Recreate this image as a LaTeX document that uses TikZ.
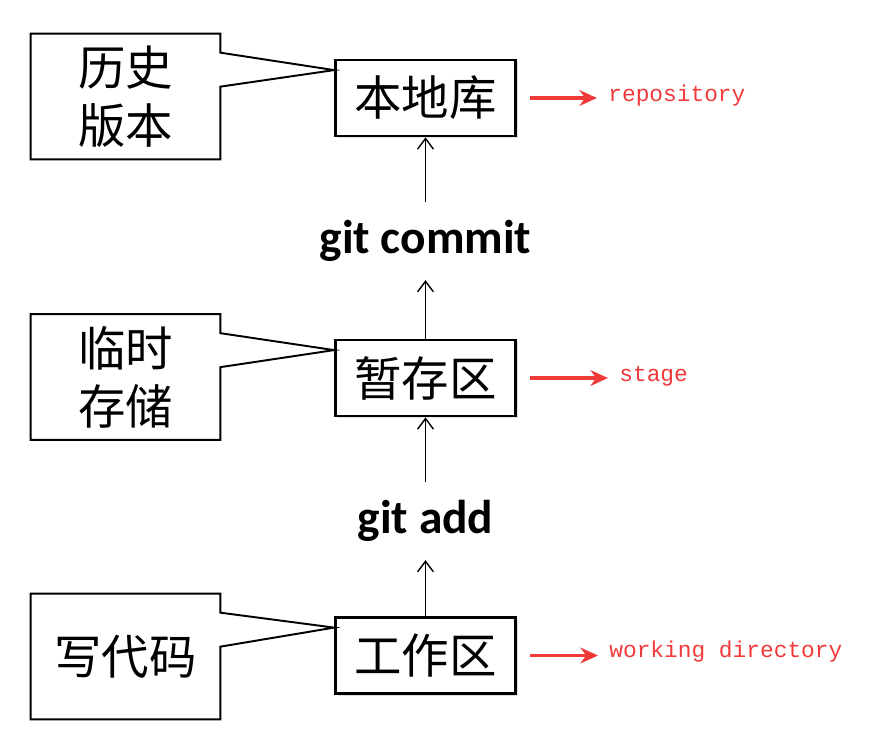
\documentclass[tikz,border=0pt]{standalone}
\usepackage{fontspec}
\setmainfont{Carlito}
\newfontfamily\cjk{Noto Sans CJK SC}
\newfontfamily\monofont{Liberation Mono}
\usetikzlibrary{arrows.meta,shadows}
\definecolor{notered}{RGB}{240,58,58}
\begin{document}
\begin{tikzpicture}[x=0.02cm,y=-0.02cm,
	area/.style={draw,line width=1.6pt,fill=white,minimum width=3.6cm,minimum height=1.52cm,inner sep=0pt,
		font=\cjk\fontsize{27}{30}\selectfont,
		drop shadow={shadow xshift=1.2pt,shadow yshift=-1.2pt,opacity=0.25}},
	memo/.style={minimum width=3.78cm,minimum height=2.5cm,inner sep=0pt,align=center,
		font=\cjk\fontsize{27}{33}\selectfont},
	memoline/.style={line width=1.1pt,line join=miter},
	cmd/.style={minimum height=1.55cm,inner sep=0pt,font=\bfseries\fontsize{27}{30}\selectfont},
	tag/.style={anchor=west,inner sep=0pt,text=notered,font=\monofont\fontsize{13}{15}\selectfont},
	up/.style={-{Straight Barb[length=6pt,width=9pt]},line width=0.8pt},
	pointer/.style={-{Stealth[length=10pt,width=9pt]},line width=1.8pt,draw=notered,
		shorten <=0.26cm,shorten >=0.22cm}]
	\useasboundingbox (0,0) rectangle (890,751);

	% the three areas and the commands between them
	\node[area] (repo)  at (425.5,  98)   {本地库};
	\node[area] (stage) at (425.5, 378)   {暂存区};
	\node[area] (work)  at (425.5, 655.5) {工作区};
	\node[cmd]  (commit) at (425.5, 241)  {git commit};
	\node[cmd]  (add)    at (425.5, 521)  {git add};

	\def\steps {stage/commit, commit/repo, work/add, add/stage}  % upward arrows
	\foreach \u\v in \steps
	{	\draw[up] (\u) -- (\v);
	}

	% notes on the left
	\node[memo] (hist) at (125.5,  96.5) {历史\\版本};
	\node[memo] (tmp)  at (125.5, 377)   {临时\\存储};
	\node[memo] (code) at (125.5, 656.5) {写代码};

	\def\notes {hist/repo, tmp/stage, code/work}  % note -> area
	\foreach \m\b in \notes
	{	\draw[memoline] (\m.north west) -- (\m.north east) -- ([yshift=-0.38cm]\m.north east)
			-- ([yshift=-0.23cm]\b.north west) -- ([yshift=-1.06cm]\m.north east)
			-- (\m.south east) -- (\m.south west) -- cycle;
	}

	% red english names
	\node[tag] (repotag)  at (608,  96)   {repository};
	\node[tag] (stagetag) at (619, 376)   {stage};
	\node[tag] (worktag)  at (609, 652)   {working directory};

	\def\names {repo/repotag, stage/stagetag, work/worktag}
	\foreach \b\t in \names
	{	\draw[pointer] (\b.east) -- (\b.east -| \t.west);
	}
\end{tikzpicture}
\end{document}
